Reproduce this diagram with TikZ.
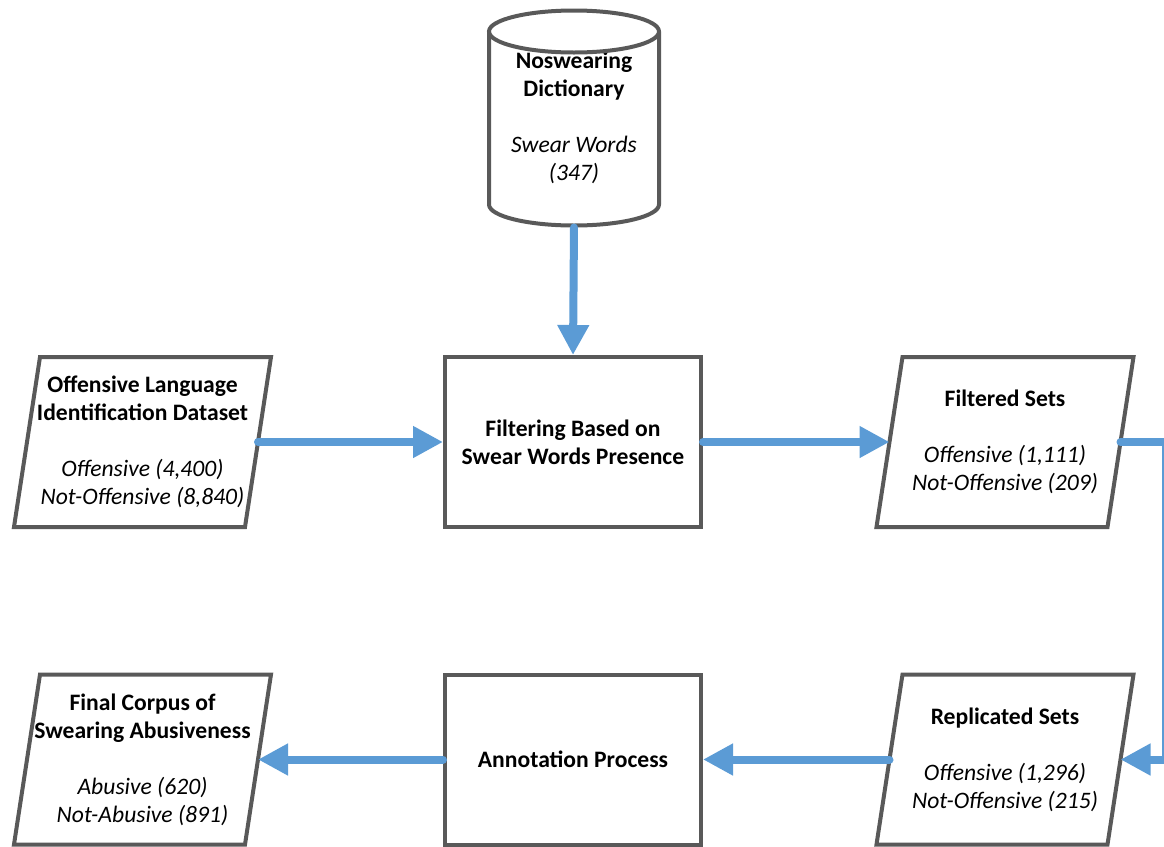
\documentclass[tikz,border=0pt]{standalone}
\usepackage{fontspec}
\setmainfont{Carlito}
\usetikzlibrary{arrows.meta}
\definecolor{flowblue}{HTML}{5B9BD5}
\definecolor{boxgray}{HTML}{595959}
\tikzset{
  border/.style={draw=boxgray, line width=2pt, line join=miter},
  txt/.style={align=center, font=\fontsize{11.8}{14}\selectfont},
  process/.style={border, txt, fill=white, minimum width=128pt, minimum height=85pt},
  dataset/.style={txt, inner sep=0pt, outer sep=0pt, minimum width=115.5pt, minimum height=85pt},
  dbase/.style={txt, inner sep=0pt, outer sep=0pt, minimum width=85pt, minimum height=107.5pt},
  flow/.style={draw=flowblue, line width=4pt, line cap=round, -{Triangle[length=15pt, width=15pt]}}
}
\begin{document}
\begin{tikzpicture}[x=0.5pt, y=-0.5pt]
      \useasboundingbox (0,0) rectangle (1164,847);
      \def\slant{6.5pt}% half of the side slant
      \def\capx{42.5pt}% cylinder cap radii
      \def\capy{10.5pt}
      % -------------------------------------------- top row
      % set the nodes
      \node[dbase] at (574, 118)   (dict) {\textbf{Noswearing}\\\textbf{Dictionary}\\[14pt]\textit{Swear Words}\\\textit{(347)}};
      \node[dataset] at (142.5, 442)   (oli) {\textbf{Offensive Language}\\\textbf{Identification Dataset}\\[14pt]\textit{Offensive (4,400)}\\\textit{Not-Offensive (8,840)}};
      \node[process] at (573, 442)   (filt) {\textbf{Filtering Based on}\\\textbf{Swear Words Presence}};
      \node[dataset] at (1005, 442)   (fset) {\textbf{Filtered Sets}\\[14pt]\textit{Offensive (1,111)}\\\textit{Not-Offensive (209)}};
      % -------------------------------------------- bottom row
      \node[dataset] at (1005, 759.5)   (rset) {\textbf{Replicated Sets}\\[14pt]\textit{Offensive (1,296)}\\\textit{Not-Offensive (215)}};
      \node[process] at (573, 759.5)   (annot) {\textbf{Annotation Process}};
      \node[dataset] at (142.5, 759.5)   (fcorp) {\textbf{Final Corpus of}\\\textbf{Swearing Abusiveness}\\[14pt]\textit{Abusive (620)}\\\textit{Not-Abusive (891)}};
      % cylinder outline of the dictionary
      \draw[border] ([yshift=-\capy]dict.north) ellipse [x radius=\capx, y radius=\capy];
      \draw[border] ([yshift=-\capy]dict.north west) -- ([yshift=\capy]dict.south west)
        arc [start angle=180, end angle=360, x radius=\capx, y radius=\capy] -- ([yshift=-\capy]dict.north east);
      % slanted outlines of the data sets
      \foreach \n in {oli, fset, rset, fcorp}
        \draw[border] ([xshift=\slant]\n.north west) -- ([xshift=\slant]\n.north east) -- ([xshift=-\slant]\n.south east) -- ([xshift=-\slant]\n.south west) -- cycle;
      % -------------------------------------------- arrows
      \coordinate (rside) at (1166, 600);
      \draw[flow] ([yshift=-1pt]dict.south) -- (filt.north);
      \draw[flow] (oli.east) -- (filt.west);
      \draw[flow] (filt.east) -- (fset.west);
      \draw[flow] (fset.east) -- (fset.east -| rside) -- (rset.east -| rside) -- (rset.east);
      \draw[flow] (rset.west) -- (annot.east);
      \draw[flow] (annot.west) -- (fcorp.east);
\end{tikzpicture}
\end{document}
